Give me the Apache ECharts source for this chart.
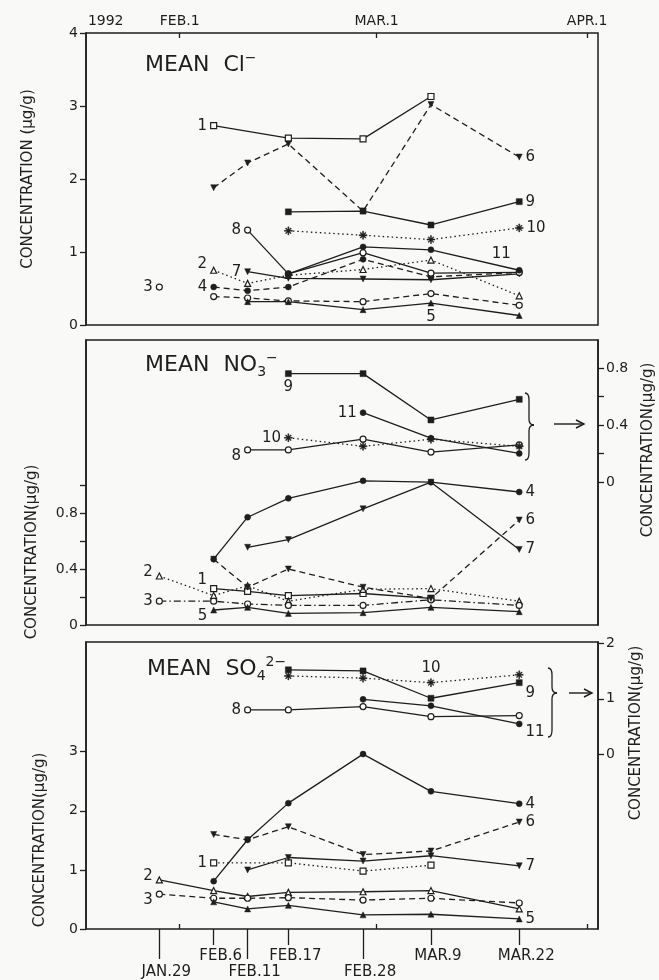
<!DOCTYPE html>
<html><head><meta charset="utf-8">
<script src="https://cdn.jsdelivr.net/npm/echarts@6/dist/echarts.min.js"></script>
<style>html,body{margin:0;padding:0;background:#f9f9f7;} #c{width:659px;height:980px;}</style>
</head><body><div id="c"></div>
<script>
// sampling dates (day of year 1992) and labels
const dates = [29, 37, 42, 48, 59, 69, 82];
const dateLabels = ['JAN.29','FEB.6','FEB.11','FEB.17','FEB.28','MAR.9','MAR.22'];
const shortDateIdx = [1, 3, 5, 6];
const longDateIdx = [0, 2, 4];
const monthDays = [32, 61, 92];
const monthLabels = ['FEB.1','MAR.1','APR.1'];
const yearLabel = '1992';
const yearLabelDay = 21.1;

// MEAN Cl- (µg/g), index = sampling date
const cl1  = [null, 2.73, null, 2.56, 2.55, 3.13, null];
const cl2  = [null, 0.75, 0.57, 0.68, 0.76, 0.89, 0.40];
const cl3  = [0.52, 0.39, 0.37, 0.33, 0.32, 0.43, 0.27];
const cl4  = [null, 0.52, 0.47, 0.52, 0.90, 0.66, 0.72];
const cl5  = [null, null, 0.32, 0.32, 0.21, 0.30, 0.13];
const cl6  = [null, 1.88, 2.22, 2.48, 1.56, 3.02, 2.30];
const cl7  = [null, null, 0.73, 0.64, 0.63, 0.62, 0.70];
const cl8  = [null, null, 1.30, 0.70, 0.99, 0.71, 0.72];
const cl9  = [null, null, null, 1.55, 1.56, 1.37, 1.69];
const cl10 = [null, null, null, 1.29, 1.23, 1.17, 1.33];
const cl11 = [null, null, null, 0.70, 1.07, 1.03, 0.75];

// MEAN NO3- ; 1-7 left axis, 8-11 right axis
const no1  = [null, 0.26, 0.24, 0.21, 0.225, 0.19, null];
const no2  = [0.35, 0.21, 0.28, 0.17, 0.255, 0.26, 0.17];
const no3  = [0.17, 0.17, 0.15, 0.14, 0.14, 0.18, 0.14];
const no4  = [null, 0.47, 0.77, 0.905, 1.03, 1.02, 0.95];
const no5  = [null, 0.107, 0.126, 0.083, 0.088, 0.126, 0.095];
const no6  = [null, 0.47, 0.27, 0.40, 0.27, 0.19, 0.75];
const no7  = [null, null, 0.555, 0.61, 0.83, 1.02, 0.54];
const no8  = [null, null, 0.225, 0.225, 0.30, 0.21, 0.26];
const no9  = [null, null, null, 0.76, 0.76, 0.435, 0.58];
const no10 = [null, null, null, 0.31, 0.25, 0.30, 0.25];
const no11 = [null, null, null, null, 0.486, 0.307, 0.20];

// MEAN SO4 2- ; 1-7 left axis, 8-11 right axis
const so1  = [null, 1.12, null, 1.12, 0.98, 1.08, null];
const so2  = [0.83, 0.65, 0.55, 0.62, 0.63, 0.65, 0.34];
const so3  = [0.59, 0.52, 0.52, 0.53, 0.49, 0.52, 0.44];
const so4  = [null, 0.81, 1.51, 2.13, 2.96, 2.33, 2.12];
const so5  = [null, 0.46, 0.34, 0.40, 0.24, 0.25, 0.17];
const so6  = [null, 1.60, 1.51, 1.73, 1.26, 1.32, 1.81];
const so7  = [null, null, 1.00, 1.21, 1.15, 1.24, 1.07];
const so8  = [null, null, 0.80, 0.80, 0.86, 0.68, 0.70];
const so9  = [null, null, null, 1.52, 1.50, 1.01, 1.29];
const so10 = [null, null, null, 1.41, 1.37, 1.29, 1.43];
const so11 = [null, null, null, null, 0.99, 0.875, 0.55];

// axis ticks
const clTicks = [0, 1, 2, 3, 4];
const noLeftTicks = [0, 0.2, 0.4, 0.6, 0.8, 1.0];
const noLeftLabels = [0, 0.4, 0.8];
const noRightTicks = [0, 0.2, 0.4, 0.6, 0.8];
const noRightLabels = [0, 0.4, 0.8];
const soLeftTicks = [0, 1, 2, 3];
const soRightTicks = [0, 1, 2];

const INK = '#1e1e1e';
const FONT = 'DejaVu Sans';
const ASTER = 'path://M4.4,0H5.6V10H4.4Z M0,4.4H10V5.6H0Z M1.3,2.1L2.1,1.3L8.7,7.9L7.9,8.7Z M7.9,1.3L8.7,2.1L2.1,8.7L1.3,7.9Z';
const SYM = {1:['rect',false,0],2:['triangle',false,0],3:['circle',false,0],4:['circle',true,0],5:['triangle',true,0],
  6:['triangle',true,180],7:['triangle',true,180],8:['circle',false,0],9:['rect',true,0],10:[ASTER,true,0],11:['circle',true,0]};
const DASH = {solid:'solid', dashed:[6,4], dotted:[1.5,3], dashdot:[7,3,1.5,3]};

const clStyles = ['solid','dotted','dashed','dashed','solid','dashed','solid','solid','solid','dotted','solid'];
const noStyles = ['solid','dotted','dashdot','solid','solid','dashed','solid','solid','solid','dotted','solid'];
const soStyles = ['dotted','solid','dashed','solid','solid','dashed','solid','solid','solid','dotted','solid'];

// curve number labels: [date index, position, offset]
const clLab = {1:[1,'left'],2:[1,'left',[0,-6]],3:[0,'left'],4:[1,'left'],5:[5,'bottom'],6:[6,'right'],7:[2,'left'],
  8:[2,'left'],9:[6,'right'],10:[6,'right'],11:[6,'top',[-18,-2]]};
const noLab = {1:[1,'left',[0,-8]],2:[0,'left',[0,-4]],3:[0,'left'],4:[6,'right'],5:[1,'left',[0,6]],6:[6,'right'],7:[6,'right'],
  8:[2,'left',[0,6]],9:[3,'bottom'],10:[3,'left'],11:[4,'left']};
const soLab = {1:[1,'left'],2:[0,'left',[0,-4]],3:[0,'left',[0,6]],4:[6,'right'],5:[6,'right'],6:[6,'right'],7:[6,'right'],
  8:[2,'left'],9:[6,'right',[0,10]],10:[5,'top'],11:[6,'right',[0,8]]};
const clGaps = {3:1};

function build(list, styles, labs, xIdx, yL, yR, gaps) {
  return list.map((vals, k) => {
    const num = k + 1;
    const data = [];
    vals.forEach((v, i) => {
      if (v === null) return;
      if (gaps && gaps[num] === i) data.push([(dates[i-1] + dates[i]) / 2, '-']);
      const item = {value: [dates[i], v]};
      const lab = labs[num];
      if (lab && lab[0] === i) {
        item.label = {show: true, formatter: String(num), position: lab[1], offset: lab[2] || [0,0],
          color: INK, fontSize: 15, fontFamily: FONT, distance: 3};
      }
      data.push(item);
    });
    const s = SYM[num];
    return {
      type: 'line', xAxisIndex: xIdx, yAxisIndex: (yR !== undefined && num >= 8) ? yR : yL,
      data: data, connectNulls: false, symbol: s[0], symbolSize: num === 10 ? 8 : 6, symbolRotate: s[2],
      showAllSymbol: true, silent: true,
      lineStyle: {color: INK, width: 1.3, type: DASH[styles[k]]},
      itemStyle: s[1] ? {color: INK, borderColor: INK, borderWidth: 0.5} : {color: '#fff', borderColor: INK, borderWidth: 1.2},
      emphasis: {disabled: true}
    };
  });
}

const series = [].concat(
  build([cl1,cl2,cl3,cl4,cl5,cl6,cl7,cl8,cl9,cl10,cl11], clStyles, clLab, 0, 0, undefined, clGaps),
  build([no1,no2,no3,no4,no5,no6,no7,no8,no9,no10,no11], noStyles, noLab, 1, 1, 2),
  build([so1,so2,so3,so4,so5,so6,so7,so8,so9,so10,so11], soStyles, soLab, 2, 3, 4)
);

const XMIN = 18.2, XMAX = 93.6;
const gridBase = {left: 86, width: 512, show: true, borderColor: INK, borderWidth: 1.5, backgroundColor: 'transparent'};
const lbl = {color: INK, fontSize: 14, fontFamily: FONT};
const fmtNum = v => String(Math.round(v * 10) / 10);

function hiddenX(g) { return {type: 'value', gridIndex: g, min: XMIN, max: XMAX, show: false, axisLine: {onZero: false}}; }
function yAx(g, pos, min, max, ticks, labels) {
  return {type: 'value', gridIndex: g, position: pos, min: min, max: max,
    axisLine: {show: true, onZero: false, lineStyle: {color: INK, width: 1.5}},
    axisTick: {show: true, inside: false, length: 6, customValues: ticks, lineStyle: {color: INK, width: 1.3}},
    axisLabel: Object.assign({show: true, margin: 8, customValues: labels, formatter: fmtNum}, lbl),
    splitLine: {show: false}};
}

const option = {
  backgroundColor: '#f9f9f7',
  animation: false,
  grid: [
    Object.assign({top: 33, height: 292}, gridBase),
    Object.assign({top: 340, height: 285}, gridBase),
    Object.assign({top: 642, height: 288}, gridBase)
  ],
  xAxis: [
    hiddenX(0), hiddenX(1), hiddenX(2),
    {type: 'value', gridIndex: 0, position: 'top', min: XMIN, max: XMAX,
      axisLine: {show: false, onZero: false},
      axisTick: {show: true, inside: true, length: 5, customValues: monthDays, lineStyle: {color: INK, width: 1.3}},
      axisLabel: Object.assign({show: true, margin: 5, customValues: [yearLabelDay].concat(monthDays),
        formatter: v => v === yearLabelDay ? yearLabel : monthLabels[monthDays.indexOf(v)]}, lbl),
      splitLine: {show: false}},
    {type: 'value', gridIndex: 2, position: 'bottom', min: XMIN, max: XMAX,
      axisLine: {show: false, onZero: false},
      axisTick: {show: true, inside: true, length: 5, customValues: monthDays, lineStyle: {color: INK, width: 1.3}},
      axisLabel: {show: false}, splitLine: {show: false}},
    {type: 'value', gridIndex: 2, position: 'bottom', min: XMIN, max: XMAX,
      axisLine: {show: false, onZero: false},
      axisTick: {show: true, inside: false, length: 16, customValues: shortDateIdx.map(i => dates[i]), lineStyle: {color: INK, width: 1.3}},
      axisLabel: Object.assign({show: true, margin: 20, padding: [0,0,0,14], customValues: shortDateIdx.map(i => dates[i]),
        formatter: v => dateLabels[dates.indexOf(v)]}, lbl, {fontSize: 15}),
      splitLine: {show: false}},
    {type: 'value', gridIndex: 2, position: 'bottom', min: XMIN, max: XMAX,
      axisLine: {show: false, onZero: false},
      axisTick: {show: true, inside: false, length: 30, customValues: longDateIdx.map(i => dates[i]), lineStyle: {color: INK, width: 1.3}},
      axisLabel: Object.assign({show: true, margin: 36, padding: [0,0,0,14], customValues: longDateIdx.map(i => dates[i]),
        formatter: v => dateLabels[dates.indexOf(v)]}, lbl, {fontSize: 15}),
      splitLine: {show: false}}
  ],
  yAxis: [
    yAx(0, 'left', 0, 4, clTicks, clTicks),
    yAx(1, 'left', 0, 2.036, noLeftTicks, noLeftLabels),
    yAx(1, 'right', -1.0035, 0.996, noRightTicks, noRightLabels),
    yAx(2, 'left', 0, 4.857, soLeftTicks, soLeftTicks),
    yAx(2, 'right', -3.125, 2.018, soRightTicks, soRightTicks)
  ],
  title: [
    {text: '{a|MEAN  Cl}{sup|−}', left: 140, top: 46, textStyle: {fontWeight: 'normal', rich: {
      a: {fontSize: 22, fontFamily: FONT, fontWeight: 'normal', color: INK, lineHeight: 28},
      sup: {fontSize: 14, fontFamily: FONT, fontWeight: 'normal', color: INK, lineHeight: 28, verticalAlign: 'top'}}}},
    {text: '{a|MEAN  NO}{sub|3}{sup|−}', left: 140, top: 346, textStyle: {fontWeight: 'normal', rich: {
      a: {fontSize: 22, fontFamily: FONT, fontWeight: 'normal', color: INK, lineHeight: 28},
      sub: {fontSize: 14, fontFamily: FONT, fontWeight: 'normal', color: INK, lineHeight: 28, verticalAlign: 'bottom'},
      sup: {fontSize: 14, fontFamily: FONT, fontWeight: 'normal', color: INK, lineHeight: 28, verticalAlign: 'top'}}}},
    {text: '{a|MEAN  SO}{sub|4}{sup|2−}', left: 142, top: 650, textStyle: {fontWeight: 'normal', rich: {
      a: {fontSize: 22, fontFamily: FONT, fontWeight: 'normal', color: INK, lineHeight: 28},
      sub: {fontSize: 14, fontFamily: FONT, fontWeight: 'normal', color: INK, lineHeight: 28, verticalAlign: 'bottom'},
      sup: {fontSize: 14, fontFamily: FONT, fontWeight: 'normal', color: INK, lineHeight: 28, verticalAlign: 'top'}}}}
  ],
  graphic: [],
  series: series
};

function vText(x, y, t) {
  return {type: 'text', x: x, y: y, rotation: Math.PI / 2, silent: true,
    style: {text: t, fill: INK, fontSize: 15, fontFamily: FONT, align: 'center', verticalAlign: 'middle'}};
}
function brace(x, y0, y1, ym) {
  const st = {stroke: INK, lineWidth: 1.3, fill: null};
  const w = 4, t = 9;
  return [
    {type: 'bezierCurve', shape: {x1: x, y1: y0, x2: x + w, y2: y0 + 7, cpx1: x + w, cpy1: y0}, style: st},
    {type: 'line', shape: {x1: x + w, y1: y0 + 7, x2: x + w, y2: ym - 6}, style: st},
    {type: 'bezierCurve', shape: {x1: x + w, y1: ym - 6, x2: x + t, y2: ym, cpx1: x + w, cpy1: ym}, style: st},
    {type: 'bezierCurve', shape: {x1: x + t, y1: ym, x2: x + w, y2: ym + 6, cpx1: x + w, cpy1: ym}, style: st},
    {type: 'line', shape: {x1: x + w, y1: ym + 6, x2: x + w, y2: y1 - 7}, style: st},
    {type: 'bezierCurve', shape: {x1: x + w, y1: y1 - 7, x2: x, y2: y1, cpx1: x + w, cpy1: y1}, style: st}
  ];
}
function arrow(x1, x2, y) {
  const st = {stroke: INK, lineWidth: 1.4, fill: null};
  return [
    {type: 'line', shape: {x1: x1, y1: y, x2: x2, y2: y}, style: st},
    {type: 'polyline', shape: {points: [[x2 - 8, y - 4], [x2, y], [x2 - 8, y + 4]]}, style: st}
  ];
}
option.graphic = [
  vText(28, 179, 'CONCENTRATION (µg/g)'),
  vText(32, 552, 'CONCENTRATION(µg/g)'),
  vText(40, 840, 'CONCENTRATION(µg/g)'),
  vText(648, 450, 'CONCENTRATION(µg/g)'),
  vText(636, 733, 'CONCENTRATION(µg/g)')
].concat(brace(525, 393, 460, 425), arrow(554, 584, 424), brace(548, 668, 737, 693), arrow(569, 592, 693));

const chart = echarts.init(document.getElementById('c'), null, {renderer: 'canvas'});
chart.setOption(option);
</script>
</body></html>
